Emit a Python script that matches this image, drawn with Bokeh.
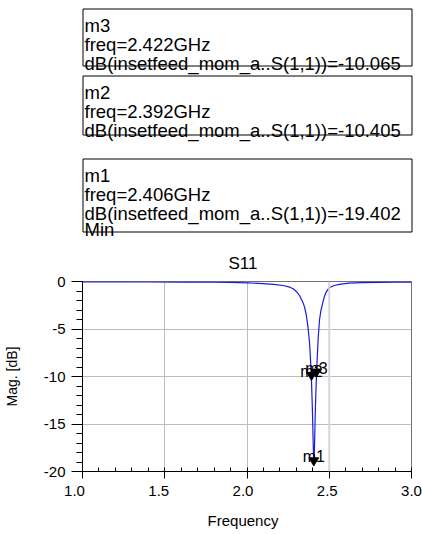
from bokeh.plotting import figure
from bokeh.layouts import column
from bokeh.models import Range1d, FixedTicker, Span
from bokeh.core.properties import value
from bokeh.embed import file_html
from bokeh.resources import INLINE

# ---- data ----
freq = [1.00, 1.20, 1.40, 1.60, 1.80, 1.90, 2.00, 2.10, 2.16, 2.22, 2.26, 2.28,
        2.30, 2.32, 2.34, 2.35, 2.36, 2.37, 2.38, 2.386, 2.392, 2.398, 2.402,
        2.406, 2.410, 2.414, 2.418, 2.422, 2.427, 2.433, 2.441, 2.45, 2.46,
        2.47, 2.48, 2.50, 2.53, 2.56, 2.62, 2.70, 2.80, 2.90, 3.00]
s11_db = [-0.03, -0.04, -0.05, -0.06, -0.08, -0.10, -0.14, -0.22, -0.30, -0.42,
          -0.60, -0.77, -1.05, -1.5, -2.2, -2.7, -3.5, -4.7, -6.4, -8.2,
          -10.405, -13.8, -16.8, -19.402, -17.6, -14.6, -12.0, -10.065, -8.0,
          -5.9, -4.0, -3.0, -2.3, -1.6, -1.15, -0.65, -0.42, -0.30, -0.18,
          -0.12, -0.09, -0.07, -0.06]

marker_names = ["m1", "m2", "m3"]
marker_freq = [2.406, 2.392, 2.422]
marker_db = [-19.402, -10.405, -10.065]

box_order = ["m3", "m2", "m1"]
box_lines = {
    "m3": ["m3", "freq=2.422GHz", "dB(insetfeed_mom_a..S(1,1))=-10.065"],
    "m2": ["m2", "freq=2.392GHz", "dB(insetfeed_mom_a..S(1,1))=-10.405"],
    "m1": ["m1", "freq=2.406GHz", "dB(insetfeed_mom_a..S(1,1))=-19.402", "Min"],
}

x_ticks = [1.0, 1.5, 2.0, 2.5, 3.0]
x_tick_labels = ["1.0", "1.5", "2.0", "2.5", "3.0"]
y_ticks = [0, -5, -10, -15, -20]
y_tick_labels = ["0", "-5", "-10", "-15", "-20"]

title_text = "S11"
x_label = "Frequency"
y_label = "Mag. [dB]"

FONT = "Liberation Sans"
X0, X1 = 1.0, 3.0
Y0, Y1 = -20, 0

# ---- geometry (pixels; the page template has no body margin) ----
W = 422
BL, BR = 74, 11             # frame left / right borders
FRAME_W = W - BL - BR
PX = FRAME_W / (X1 - X0)    # pixels per GHz
TOP_H = 272
MAIN_TOP, FRAME_H, MAIN_BOT = 9, 190, 10
MAIN_H = MAIN_TOP + FRAME_H + MAIN_BOT
BOT_H = 534 - TOP_H - MAIN_H


def blank(height, x_range, y_range):
    f = figure(width=W, height=height, x_range=x_range, y_range=y_range,
               x_axis_type=None, y_axis_type=None, toolbar_location=None,
               output_backend="svg", min_border_left=0, min_border_right=0,
               min_border_top=0, min_border_bottom=0, frame_align=False)
    f.grid.visible = False
    f.outline_line_color = None
    return f


# ---- top figure: marker boxes + title ----
top = blank(TOP_H, Range1d(0, W), Range1d(TOP_H, 0))

box_tops = [8.5, 75.5, 158.5]
box_bottoms = [65.5, 134.5, 231.5]
box_left, box_right = 82.5, 411.5
top.quad(left=[box_left] * 3, right=[box_right] * 3, top=box_tops, bottom=box_bottoms,
         fill_color=None, line_color="black", line_width=1)

line_offsets = [16.8, 35.4, 54.0, 70.6]
tx, ty, tt = [], [], []
for name, bt in zip(box_order, box_tops):
    for i, line in enumerate(box_lines[name]):
        tx.append(box_left + 1.5)
        ty.append(bt + line_offsets[i])
        tt.append(line)
top.text(x=tx, y=ty, text=tt, text_font=value(FONT), text_font_size="18.5px",
         text_baseline="alphabetic", text_align="left", text_color="black")

top.text(x=[BL + FRAME_W / 2], y=[TOP_H - 9], text=[title_text], text_font=value(FONT),
         text_font_size="17px", text_align="center", text_baseline="alphabetic",
         text_color="black")

# ---- main figure ----
p = figure(width=W, height=MAIN_H, x_range=Range1d(X0, X1), y_range=Range1d(Y0, Y1),
           toolbar_location=None, output_backend="svg", frame_align=False,
           min_border_left=BL, min_border_right=BR,
           min_border_top=MAIN_TOP, min_border_bottom=MAIN_BOT)
p.outline_line_color = "#707070"
p.outline_line_width = 1

p.xaxis.ticker = FixedTicker(ticks=x_ticks,
                             minor_ticks=[round(X0 + 0.1 * i, 1) for i in range(21)])
p.yaxis.ticker = FixedTicker(ticks=y_ticks, minor_ticks=list(range(Y0, Y1 + 1)))
p.xaxis.major_label_overrides = {t: "" for t in x_ticks}
p.xaxis.major_label_text_font_size = "0px"
p.xaxis.major_label_standoff = 0
p.yaxis.major_label_overrides = dict(zip(y_ticks, y_tick_labels))

for ax in (p.xaxis[0], p.yaxis[0]):
    ax.axis_line_color = "black"
    ax.major_tick_line_color = "black"
    ax.minor_tick_line_color = "black"

p.xaxis.major_tick_in = 0
p.xaxis.major_tick_out = 7
p.xaxis.minor_tick_in = 4
p.xaxis.minor_tick_out = 0

p.yaxis.major_tick_in = 0
p.yaxis.major_tick_out = 11
p.yaxis.minor_tick_in = 0
p.yaxis.minor_tick_out = 6
p.yaxis.major_label_standoff = 6
p.yaxis.major_label_text_font = FONT
p.yaxis.major_label_text_font_size = "15px"
p.yaxis.major_label_text_color = "black"
p.yaxis.axis_label = y_label
p.yaxis.axis_label_text_font = FONT
p.yaxis.axis_label_text_font_style = "normal"
p.yaxis.axis_label_text_font_size = "14px"
p.yaxis.axis_label_text_color = "black"
p.yaxis.axis_label_standoff = 21

p.xgrid.ticker = FixedTicker(ticks=x_ticks[1:3])
p.ygrid.ticker = FixedTicker(ticks=y_ticks[1:4])
p.grid.grid_line_color = "#bdbdbd"
p.grid.grid_line_width = 1
p.add_layout(Span(location=x_ticks[3], dimension="height", line_color="#d6d6d6", line_width=2))

p.line(freq, s11_db, line_color="#1a1ae0", line_width=1.2)

# marker triangles (tip on the data point)
PY = FRAME_H / (Y1 - Y0)
tri_w, tri_h = 10 / PX, 8 / PY
xs = [[f - tri_w / 2, f + tri_w / 2, f] for f in marker_freq]
ys = [[d + tri_h, d + tri_h, d] for d in marker_db]
p.patches(xs, ys, fill_color="black", line_color="black")
p.text(x=marker_freq, y=[d + tri_h for d in marker_db], text=marker_names,
       text_font=value(FONT), text_font_size="16px", text_align="center",
       text_baseline="alphabetic", y_offset=-1, text_color="black")

# ---- bottom figure: x tick labels + x axis label ----
bot = blank(BOT_H, Range1d(X0 - BL / PX, X1 + BR / PX), Range1d(BOT_H, 0))
bot.text(x=x_ticks, y=[9] * len(x_ticks), text=x_tick_labels,
         text_font=value(FONT), text_font_size="15px", text_align="center",
         text_baseline="middle", text_color="black")
bot.text(x=[(X0 + X1) / 2], y=[39], text=[x_label], text_font=value(FONT),
         text_font_size="15px", text_align="center", text_baseline="middle",
         text_color="black")

layout = column(top, p, bot, spacing=0)
open("out.html", "w").write(file_html(layout, INLINE))
